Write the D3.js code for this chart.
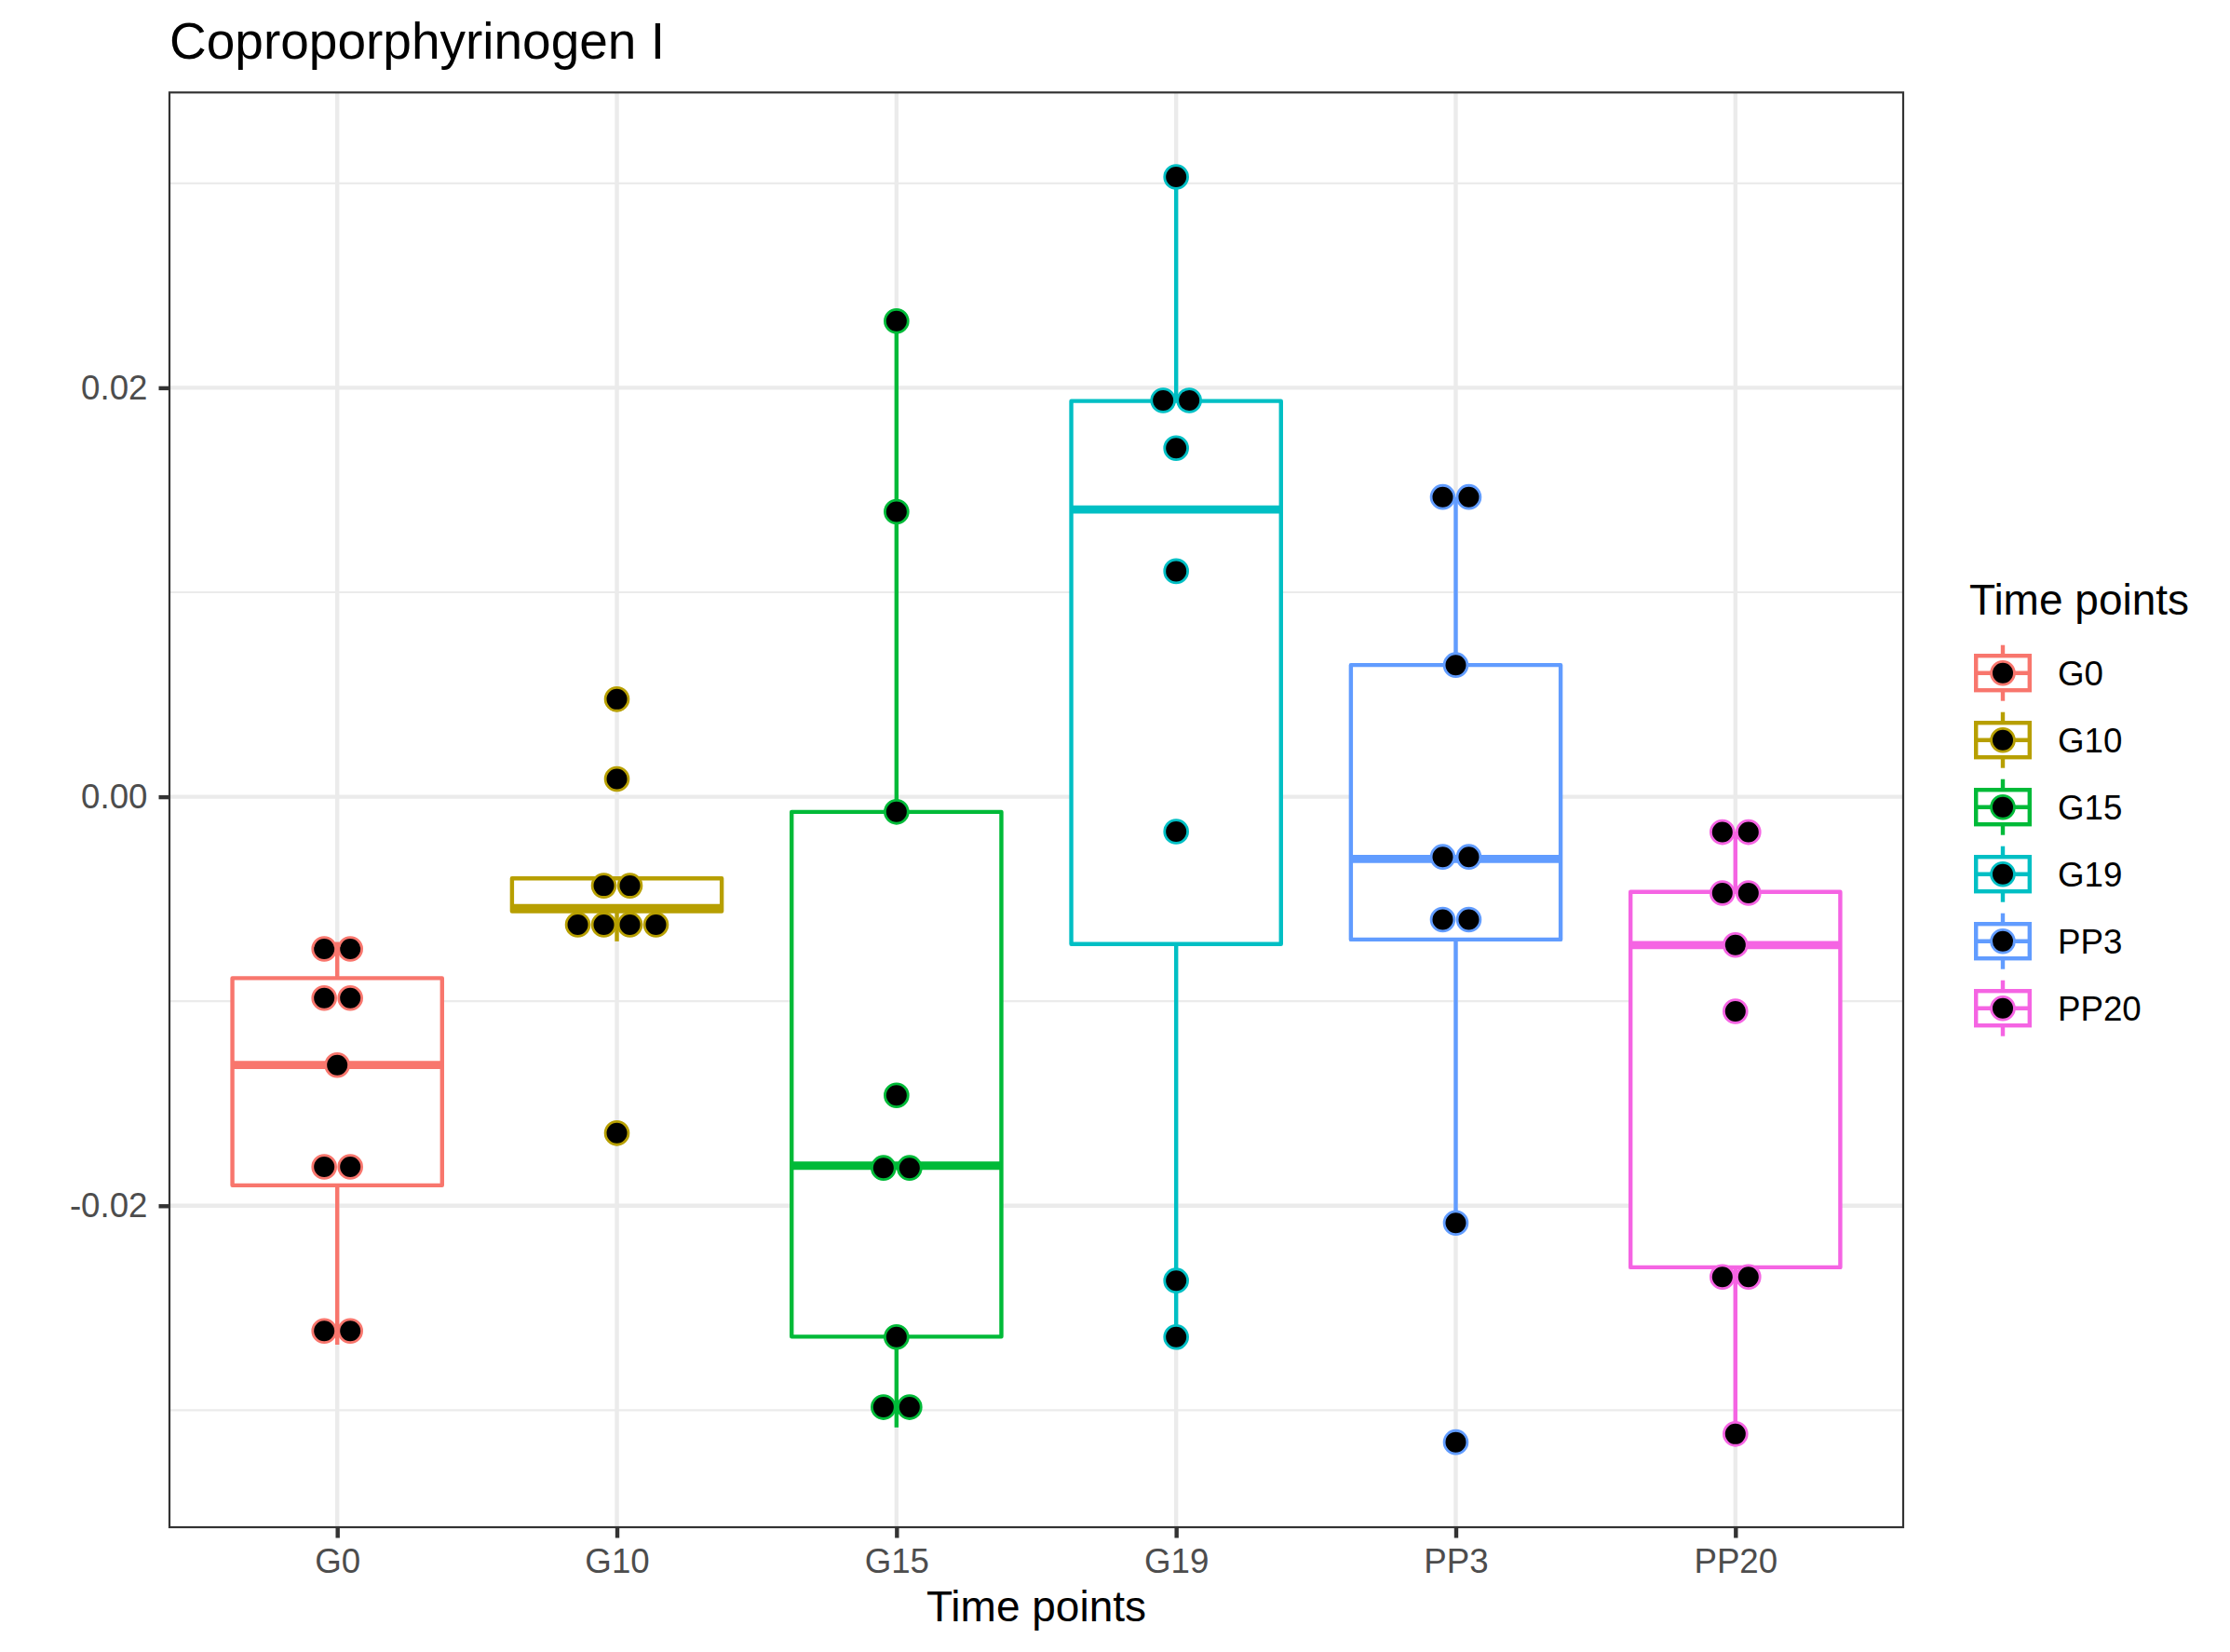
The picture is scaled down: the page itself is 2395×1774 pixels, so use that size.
<!DOCTYPE html>
<html>
<head>
<meta charset="utf-8">
<script src="https://cdn.jsdelivr.net/npm/d3@7"></script>
<style>
  html, body { margin: 0; padding: 0; background: #fff; }
  svg { display: block; font-family: "Liberation Sans", Arial, Helvetica, sans-serif; }
</style>
</head>
<body>
<svg id="chart" width="2395" height="1774"></svg>
<script>
// ---- Data ----
const categories = ["G0", "G10", "G15", "G19", "PP3", "PP20"];
const colors = ["#F8766D", "#B79F00", "#00BA38", "#00BFC4", "#619CFF", "#F564E3"];

// dot positions per group (binned values as drawn)
const dotsG0   = [-0.00744, -0.00744, -0.00984, -0.00984, -0.01312, -0.0181, -0.0181, -0.02612, -0.02612];
const dotsG10  = [0.00477, 0.00087, -0.00435, -0.00435, -0.00626, -0.00626, -0.00626, -0.00626, -0.01645];
const dotsG15  = [0.02326, 0.01394, -0.00074, -0.0146, -0.01815, -0.01815, -0.02642, -0.02985, -0.02985];
const dotsG19  = [0.03031, 0.01938, 0.01938, 0.01705, 0.01103, -0.0017, -0.02366, -0.02642];
const dotsPP3  = [0.01466, 0.01466, 0.00644, -0.00294, -0.00294, -0.00601, -0.00601, -0.02084, -0.03156];
const dotsPP20 = [-0.00173, -0.00173, -0.00471, -0.00471, -0.00725, -0.01049, -0.02348, -0.02348, -0.03116];

// box statistics per group: [lower whisker, Q1, median, Q3, upper whisker]
const whiskerLow  = [-0.0268, -0.00707, -0.03084, -0.02642, -0.02084, -0.03116];
const q1          = [-0.0190, -0.0056,  -0.0264,  -0.0072,  -0.00698, -0.02301];
const medians     = [-0.01312, -0.00544, -0.01804, 0.01405, -0.00304, -0.00725];
const q3          = [-0.00887, -0.00399, -0.00074, 0.01935, 0.00644, -0.00465];
const whiskerHigh = [-0.0071, -0.00399, 0.02326, 0.03031, 0.01466, -0.0017];

const yMajorTicks = [-0.02, 0.00, 0.02];
const yMinorTicks = [-0.03, -0.01, 0.01, 0.03];
const yDomain = [-0.03572, 0.03444];

const titleText = "Coproporphyrinogen I";
const xTitle = "Time points";
const legendTitle = "Time points";

const allDots = [dotsG0, dotsG10, dotsG15, dotsG19, dotsPP3, dotsPP20];

// ---- Layout ----
const panel = { left: 182, right: 2044, top: 99.3, bottom: 1640 };
const svg = d3.select("#chart");

const x = d3.scalePoint().domain(categories).range([panel.left, panel.right]).padding(0.6);
const y = d3.scaleLinear().domain(yDomain).range([panel.bottom, panel.top]);
const step = x.step();
const boxW = step * 0.75;
const color = d3.scaleOrdinal().domain(categories).range(colors);

const lineW = 4.4;
const dotR = 12.4, dotStroke = 2.8, dotSpacing = 28;

const fmt = d3.formatLocale({ decimal: ".", thousands: ",", grouping: [3], currency: ["", ""], minus: "-" }).format(".2f");

// panel background
svg.append("rect").attr("x", panel.left).attr("y", panel.top)
  .attr("width", panel.right - panel.left).attr("height", panel.bottom - panel.top)
  .attr("fill", "#fff");

// grid lines
const grid = svg.append("g");
grid.selectAll("line.minor").data(yMinorTicks).join("line")
  .attr("x1", panel.left).attr("x2", panel.right)
  .attr("y1", d => y(d)).attr("y2", d => y(d))
  .attr("stroke", "#EBEBEB").attr("stroke-width", 2.2);
grid.selectAll("line.majory").data(yMajorTicks).join("line")
  .attr("x1", panel.left).attr("x2", panel.right)
  .attr("y1", d => y(d)).attr("y2", d => y(d))
  .attr("stroke", "#EBEBEB").attr("stroke-width", lineW);
grid.selectAll("line.majorx").data(categories).join("line")
  .attr("y1", panel.top).attr("y2", panel.bottom)
  .attr("x1", d => x(d)).attr("x2", d => x(d))
  .attr("stroke", "#EBEBEB").attr("stroke-width", lineW);

// boxes
const boxes = svg.append("g");
categories.forEach((c, i) => {
  const cx = x(c), col = color(c);
  const g = boxes.append("g");
  g.append("line").attr("x1", cx).attr("x2", cx)
    .attr("y1", y(q3[i])).attr("y2", y(whiskerHigh[i]))
    .attr("stroke", col).attr("stroke-width", lineW);
  g.append("line").attr("x1", cx).attr("x2", cx)
    .attr("y1", y(q1[i])).attr("y2", y(whiskerLow[i]))
    .attr("stroke", col).attr("stroke-width", lineW);
  g.append("rect").attr("x", cx - boxW / 2).attr("width", boxW)
    .attr("y", y(q3[i])).attr("height", y(q1[i]) - y(q3[i]))
    .attr("fill", "#fff").attr("stroke", col).attr("stroke-width", lineW)
    .attr("stroke-linejoin", "round");
  g.append("line").attr("x1", cx - boxW / 2).attr("x2", cx + boxW / 2)
    .attr("y1", y(medians[i])).attr("y2", y(medians[i]))
    .attr("stroke", col).attr("stroke-width", lineW * 2);
});

// dots (stacked centrally for equal values)
const dotsG = svg.append("g");
categories.forEach((c, i) => {
  const vals = allDots[i];
  const groups = d3.groups(vals, v => v);
  groups.forEach(([v, arr]) => {
    const n = arr.length;
    arr.forEach((_, k) => {
      dotsG.append("circle")
        .attr("cx", x(c) + (k - (n - 1) / 2) * dotSpacing)
        .attr("cy", y(v))
        .attr("r", dotR)
        .attr("fill", "#000")
        .attr("stroke", color(c))
        .attr("stroke-width", dotStroke);
    });
  });
});

// panel border
svg.append("rect").attr("x", panel.left).attr("y", panel.top)
  .attr("width", panel.right - panel.left).attr("height", panel.bottom - panel.top)
  .attr("fill", "none").attr("stroke", "#333333").attr("stroke-width", 2.2);

// axes
const yAxis = d3.axisLeft(y).tickValues(yMajorTicks).tickFormat(fmt)
  .tickSize(11.5).tickPadding(12);
const yg = svg.append("g").attr("transform", `translate(${panel.left},0)`).call(yAxis);
yg.select(".domain").remove();
yg.selectAll(".tick line").attr("stroke", "#333333").attr("stroke-width", lineW);
yg.selectAll(".tick text").attr("fill", "#4D4D4D").attr("font-size", 36.7)
  .attr("font-family", "Liberation Sans, Arial, Helvetica, sans-serif");

const xAxis = d3.axisBottom(x).tickSize(11.5).tickPadding(11.5);
const xg = svg.append("g").attr("transform", `translate(0,${panel.bottom})`).call(xAxis);
xg.select(".domain").remove();
xg.selectAll(".tick line").attr("stroke", "#333333").attr("stroke-width", lineW);
xg.selectAll(".tick text").attr("fill", "#4D4D4D").attr("font-size", 36.7)
  .attr("font-family", "Liberation Sans, Arial, Helvetica, sans-serif");

// titles
svg.append("text").attr("x", panel.left).attr("y", 63)
  .attr("font-size", 55).attr("fill", "#000").text(titleText);
svg.append("text").attr("x", (panel.left + panel.right) / 2).attr("y", 1741)
  .attr("text-anchor", "middle").attr("font-size", 46).attr("fill", "#000").text(xTitle);

// legend
const leg = svg.append("g");
leg.append("text").attr("x", 2115).attr("y", 660).attr("font-size", 46)
  .attr("fill", "#000").text(legendTitle);
const keyCx = 2151, key0 = 722.7, keyStep = 72;
categories.forEach((c, i) => {
  const cy = key0 + i * keyStep, col = color(c);
  const g = leg.append("g");
  g.append("line").attr("x1", keyCx).attr("x2", keyCx).attr("y1", cy - 30).attr("y2", cy + 30)
    .attr("stroke", col).attr("stroke-width", lineW);
  g.append("rect").attr("x", keyCx - 28.8).attr("width", 57.6).attr("y", cy - 18.5).attr("height", 37)
    .attr("fill", "#fff").attr("stroke", col).attr("stroke-width", lineW);
  g.append("line").attr("x1", keyCx - 28.8).attr("x2", keyCx + 28.8).attr("y1", cy).attr("y2", cy)
    .attr("stroke", col).attr("stroke-width", lineW);
  g.append("circle").attr("cx", keyCx).attr("cy", cy).attr("r", dotR)
    .attr("fill", "#000").attr("stroke", col).attr("stroke-width", dotStroke);
  g.append("text").attr("x", 2210).attr("y", cy).attr("dy", "0.35em")
    .attr("font-size", 36.7).attr("fill", "#000").text(c);
});
</script>
</body>
</html>
